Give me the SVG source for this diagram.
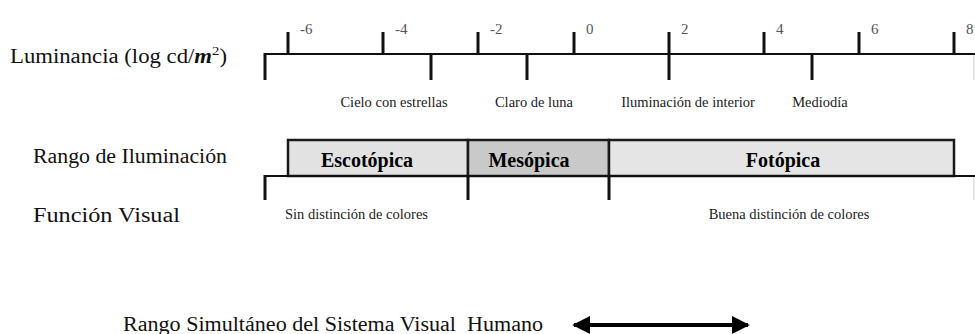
<svg xmlns="http://www.w3.org/2000/svg" width="975" height="334" viewBox="0 0 975 334">
<style>
  .lbl { font-family: "Liberation Serif", "DejaVu Serif", serif; font-size: 20px; fill: #111; }
  .sm { font-family: "Liberation Serif", "DejaVu Serif", serif; font-size: 14.5px; fill: #222; text-anchor: middle; }
  .sm.start { text-anchor: start; }
  .num { font-family: "Liberation Serif", "DejaVu Serif", serif; font-size: 15px; fill: #555; }
  .rng { font-family: "Liberation Serif", "DejaVu Serif", serif; font-size: 20px; font-weight: bold; fill: #000; text-anchor: middle; }
  .ax { stroke: #111; stroke-width: 2.2; fill: none; }
  .tk { stroke: #111; stroke-width: 3; fill: none; }
  .faint { stroke: #ddd; stroke-width: 1.5; }
  .box { stroke: #1a1a1a; stroke-width: 2.5; }
</style>
<defs>
  <marker id="ah" viewBox="0 0 10 10" refX="9" refY="5" markerWidth="4.5" markerHeight="4.5" markerUnits="strokeWidth" orient="auto-start-reverse">
    <path d="M0,0 L10,5 L0,10 Z" fill="#000"/>
  </marker>
</defs>

<g id="row-labels">
  <text class="lbl" x="10" y="63" textLength="217" lengthAdjust="spacingAndGlyphs">Luminancia (log cd/<tspan font-style="italic" font-weight="bold">m</tspan><tspan font-size="13" dy="-8">2</tspan><tspan dy="8">)</tspan></text>
  <text class="lbl" x="33" y="163" textLength="194" lengthAdjust="spacingAndGlyphs">Rango de Iluminación</text>
  <text class="lbl" x="33" y="222" textLength="147" lengthAdjust="spacingAndGlyphs">Función Visual</text>
  <text class="lbl" x="123" y="331" textLength="420" lengthAdjust="spacingAndGlyphs">Rango Simultáneo del Sistema Visual&#160; Humano</text>
</g>

<g id="luminance-axis">
  <line class="ax" x1="264" y1="54" x2="975" y2="54"/>
  <line class="tk" x1="265" y1="53" x2="265" y2="80"/>
  <g class="tk">
    <line x1="288" y1="32" x2="288" y2="54"/>
    <line x1="383" y1="32" x2="383" y2="54"/>
    <line x1="478" y1="32" x2="478" y2="54"/>
    <line x1="574" y1="32" x2="574" y2="54"/>
    <line x1="669" y1="32" x2="669" y2="80"/>
    <line x1="764" y1="32" x2="764" y2="54"/>
    <line x1="859" y1="32" x2="859" y2="54"/>
    <line x1="954" y1="32" x2="954" y2="54"/>
    <line x1="431" y1="54" x2="431" y2="80"/>
    <line x1="527" y1="54" x2="527" y2="80"/>
    <line x1="812" y1="54" x2="812" y2="80"/>
  </g>
  <line class="faint" x1="974" y1="55" x2="974" y2="80"/>
  <text class="num" x="300" y="34">-6</text>
  <text class="num" x="395" y="34">-4</text>
  <text class="num" x="490" y="34">-2</text>
  <text class="num" x="586" y="34">0</text>
  <text class="num" x="681" y="34">2</text>
  <text class="num" x="776" y="34">4</text>
  <text class="num" x="871" y="34">6</text>
  <text class="num" x="966" y="34">8</text>
  <text class="sm" x="394" y="107">Cielo con estrellas</text>
  <text class="sm" x="534" y="107">Claro de luna</text>
  <text class="sm" x="688" y="107">Iluminación de interior</text>
  <text class="sm" x="820" y="107">Mediodía</text>
</g>

<g id="escotopica">
  <rect class="box" x="288" y="140" width="180" height="36" fill="#e2e2e2"/>
  <text class="rng" x="367" y="167">Escotópica</text>
</g>
<g id="mesopica">
  <rect class="box" x="468" y="140" width="141" height="36" fill="#c9c9c9"/>
  <text class="rng" x="529" y="167">Mesópica</text>
</g>
<g id="fotopica">
  <rect class="box" x="609" y="140" width="345" height="36" fill="#e5e5e5"/>
  <text class="rng" x="783" y="167">Fotópica</text>
</g>

<g id="visual-function-axis">
  <line class="ax" x1="264" y1="176" x2="975" y2="176" stroke-width="2.5"/>
  <line class="tk" x1="265" y1="175" x2="265" y2="200"/>
  <line class="tk" x1="468" y1="176" x2="468" y2="200"/>
  <line class="tk" x1="609" y1="176" x2="609" y2="200"/>
  <line class="faint" x1="974" y1="177" x2="974" y2="200"/>
  <text class="sm start" x="285" y="219">Sin distinción de colores</text>
  <text class="sm" x="789" y="219">Buena distinción de colores</text>
</g>

<g id="connectors">
  <line x1="574" y1="325" x2="748" y2="325" stroke="#000" stroke-width="4" marker-start="url(#ah)" marker-end="url(#ah)"/>
</g>
</svg>
